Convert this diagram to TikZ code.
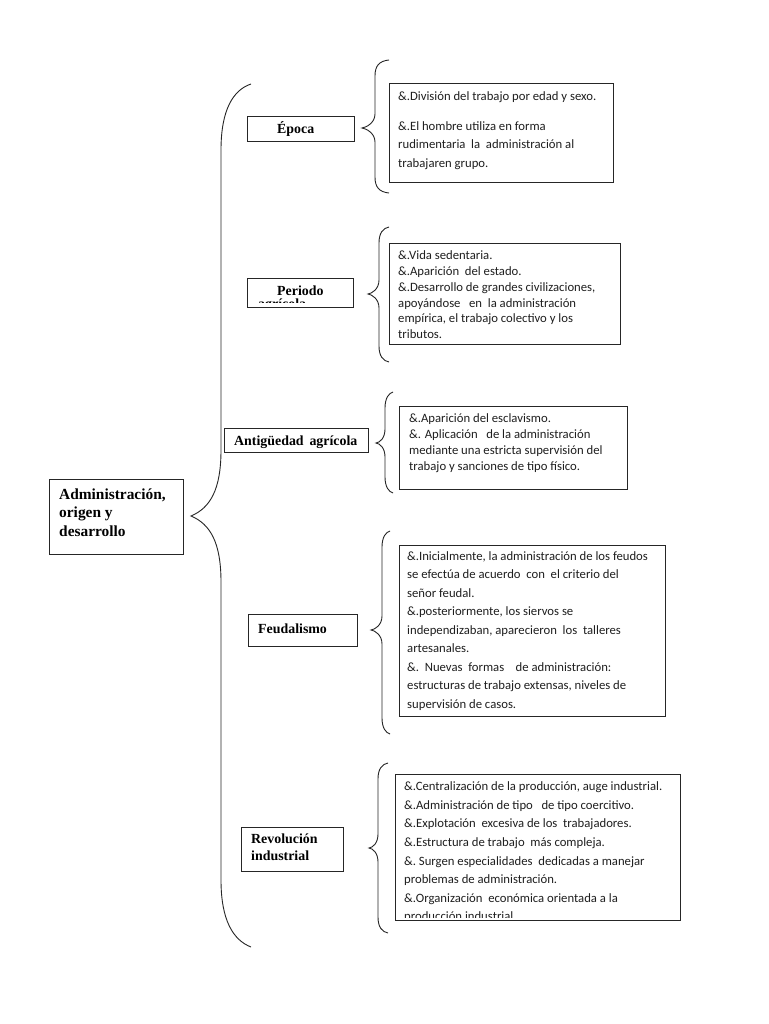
\documentclass[tikz,border=0pt]{standalone}
\usepackage{fontspec}
\setmainfont{Carlito}
\newfontfamily\ttlfamily{Liberation Serif}
\begin{document}
\begin{tikzpicture}[x=1pt,y=-1pt,
  box/.style={draw=black!85,line width=1pt,inner sep=0pt,outer sep=0pt},
  ttl/.style={font=\ttlfamily\bfseries\fontsize{13.9}{17}\selectfont,inner sep=0pt,anchor=base west,text=black},
  mainttl/.style={font=\ttlfamily\bfseries\fontsize{15.4}{18.4}\selectfont,inner sep=0pt,anchor=north west,align=left,text=black},
  body/.style={inner sep=0pt,anchor=north west,align=left,text=black!88},
  brace/.style={draw=black!85,line width=0.9pt}]
\useasboundingbox (0,0) rectangle (768,1024);
\fill[white] (0,0) rectangle (768,1024);
\newcommand\mybrace[6]{%
  \draw[brace] (#1,#4) .. controls ({#2+4},{#4+1}) and (#2,{#4+6}) .. (#2,{#4+16})
    -- (#2,{#5-14}) .. controls (#2,{#5-5}) and ({#3+4},{#5-0.5}) .. (#3,#5)
    .. controls ({#3+4},{#5+0.5}) and (#2,{#5+5}) .. (#2,{#5+14})
    -- (#2,{#6-16}) .. controls (#2,{#6-6}) and ({#2+4},{#6-1}) .. (#1,#6);}

% main box
\node[box,minimum width=134pt,minimum height=75pt] (main) at (116,516.5) {};
\node[mainttl] (mainT) at (59,487.5) {\rule{0pt}{11.8pt}Administración,\\origen y\\desarrollo};

% main brace
\coordinate (mtip) at (191,516);
\draw[brace] (251,84) .. controls (233,90) and (221,110) .. (221,150)
  -- (221,450) .. controls (221,490) and (210,508) .. (mtip)
  .. controls (210,524) and (221,542) .. (221,582)
  -- (221,880) .. controls (221,920) and (233,940) .. (251,947);

% category boxes
\node[box,minimum width=107pt,minimum height=25pt] (epoca) at (300.5,129.5) {};
\node[ttl] (epocaT) at (277,134) {Época};

\node[box,minimum width=106pt,minimum height=29pt] (periodo) at (300,292.5) {};
\node[ttl] (periodoT) at (277,295) {Periodo};
\begin{scope}
  \clip (248,279) rectangle (352,302.3);
  \node[ttl] (periodoT2) at (258,308) {agrícola};
\end{scope}

\node[box,minimum width=144pt,minimum height=24pt] (antig) at (296,440) {};
\node[ttl] (antigT) at (234,445) {Antigüedad\, agrícola};

\node[box,minimum width=109pt,minimum height=32pt] (feud) at (302.5,630) {};
\node[ttl] (feudT) at (258,633) {Feudalismo};

\node[box,minimum width=102pt,minimum height=44pt] (revol) at (292,849) {};
\node[ttl] (revolT) at (251,843.5) {Revolución};
\node[ttl] (revolT2) at (251,860.5) {industrial};

% braces
\mybrace{389}{375}{362}{60}{128}{193}
\mybrace{389}{379}{368}{227}{294}{362}
\mybrace{393}{385}{376}{392}{443}{493}
\mybrace{390}{382}{371}{531}{630}{734}
\mybrace{388}{378}{369}{763}{848}{933}

% text boxes
\node[box,minimum width=224pt,minimum height=99pt] (b1) at (501,133.5) {};
\node[body,font=\fontsize{12.7}{18.3}\selectfont] (b1T) at (398,90.5)
 {\rule{0pt}{10pt}\&.División del trabajo por edad y sexo.\\[11.5pt]
  \&.El hombre utiliza en forma\\
  rudimentaria\ \ la\ \ administración al\\
  trabajaren grupo.};

\node[box,minimum width=231pt,minimum height=101pt] (b2) at (504.5,293.5) {};
\node[body,font=\fontsize{12.7}{15.8}\selectfont] (b2T) at (398,249.5)
 {\rule{0pt}{10pt}\&.Vida sedentaria.\\
  \&.Aparición\ \ del estado.\\
  \&.Desarrollo de grandes civilizaciones,\\
  apoyándose\ \ \ en\ \ la administración\\
  empírica, el trabajo colectivo y los\\
  tributos.};

\node[box,minimum width=228pt,minimum height=83pt] (b3) at (513,447.5) {};
\node[body,font=\fontsize{12.7}{16}\selectfont] (b3T) at (409,412.5)
 {\rule{0pt}{10pt}\&.Aparición del esclavismo.\\
  \&. Aplicación\ \ \ de la administración\\
  mediante una estricta supervisión del\\
  trabajo y sanciones de tipo físico.};

\node[box,minimum width=266pt,minimum height=171pt] (b4) at (532,630.5) {};
\node[body,font=\fontsize{12.7}{18.5}\selectfont] (b4T) at (407,550)
 {\rule{0pt}{10pt}\&.Inicialmente, la administración de los feudos\\
  se efectúa de acuerdo\ \ con\ \ el criterio del\\
  señor feudal.\\
  \&.posteriormente, los siervos se\\
  independizaban, aparecieron\ \ los\ \ talleres\\
  artesanales.\\
  \&.\ \ Nuevas\ \ formas\ \ \ \ de administración:\\
  estructuras de trabajo extensas, niveles de\\
  supervisión de casos.};

\node[box,minimum width=285pt,minimum height=146pt] (b5) at (537.5,847) {};
\begin{scope}
  \clip (396,775) rectangle (679,917.2);
  \node[body,font=\fontsize{12.7}{18.6}\selectfont] (b5T) at (404,780.5)
   {\rule{0pt}{10pt}\&.Centralización de la producción, auge industrial.\\
    \&.Administración de tipo\ \ \ de tipo coercitivo.\\
    \&.Explotación\ \ excesiva de los\ \ trabajadores.\\
    \&.Estructura de trabajo\ \ más compleja.\\
    \&.\ Surgen especialidades\ \ dedicadas a manejar\\
    problemas de administración.\\
    \&.Organización\ \ económica orientada a la\\
    producción industrial.};
\end{scope}
\end{tikzpicture}
\end{document}
